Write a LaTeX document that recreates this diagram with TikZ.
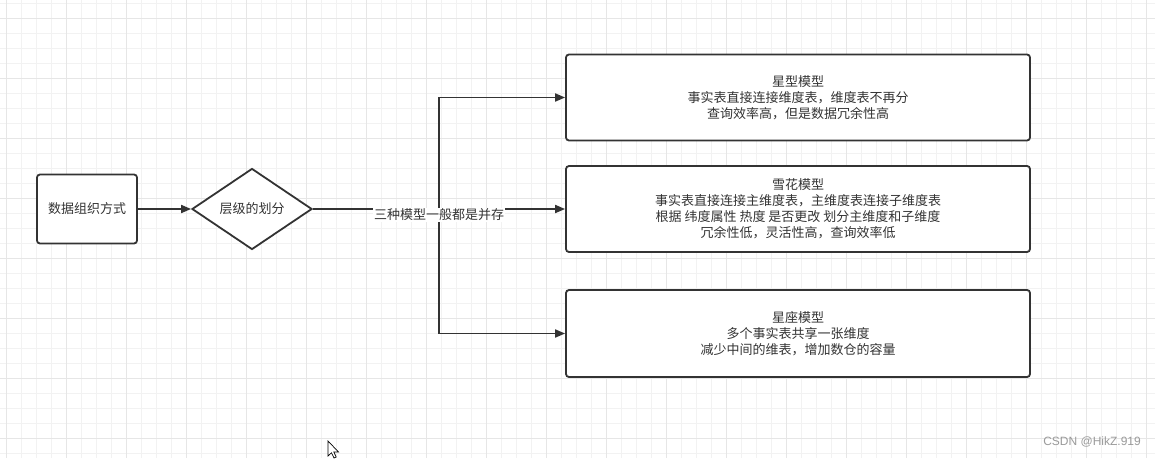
\documentclass[tikz,border=0pt]{standalone}
\usepackage{fontspec}
\setmainfont{Noto Sans CJK SC}
\newfontfamily\wmfont{Liberation Sans}
\usetikzlibrary{shapes.geometric,arrows.meta}
\definecolor{ink}{HTML}{333333}
\definecolor{gridminor}{HTML}{F2F2F2}
\definecolor{gridmajor}{HTML}{E6E6E6}
\definecolor{wm}{HTML}{9A9A9A}
\tikzset{
  box/.style={draw=ink, line width=1.8pt, rounded corners=3pt, fill=white,
    text=ink, align=center, inner sep=2pt, font=\fontsize{13}{16}\selectfont},
  dia/.style={diamond, draw=ink, line width=1.8pt, fill=white, text=ink,
    minimum width=120pt, minimum height=81pt, inner sep=0pt,
    font=\fontsize{13}{16}\selectfont},
  conn/.style={draw=ink, line width=1.8pt},
  arr/.style={conn, -{Triangle[length=10pt,width=8pt]}},
  lbl/.style={fill=white, text=ink, inner sep=1pt, font=\fontsize{13}{16}\selectfont},
}
\begin{document}
\begin{tikzpicture}[x=1pt,y=-1pt]
\useasboundingbox (0,0) rectangle (1155,458);
\fill[white] (0,0) rectangle (1155,458);
% grid
\foreach \x in {6.7,21.7,...,1155} \draw[gridminor, line width=0.8pt] (\x,0) -- (\x,458);
\foreach \y in {3.3,18.3,...,458} \draw[gridminor, line width=0.8pt] (0,\y) -- (1155,\y);
\foreach \x in {6.7,66.7,...,1155} \draw[gridmajor, line width=0.8pt] (\x,0) -- (\x,458);
\foreach \y in {18.3,78.3,...,458} \draw[gridmajor, line width=0.8pt] (0,\y) -- (1155,\y);

\node[box, minimum width=100pt, minimum height=69pt] (src) at (87,209) {数据组织方式};
\node[dia] (d) at (252,209) {层级的划分};
\node[box, minimum width=464pt, minimum height=86pt] (star) at (798,97.5)
  {星型模型\\事实表直接连接维度表，维度表不再分\\查询效率高，但是数据冗余性高};
\node[box, minimum width=464pt, minimum height=86pt] (snow) at (798,209)
  {雪花模型\\事实表直接连接主维度表，主维度表连接子维度表\\根据 纬度属性 热度 是否更改 划分主维度和子维度\\冗余性低，灵活性高，查询效率低};
\node[box, minimum width=464pt, minimum height=87pt] (cons) at (798,333.5)
  {星座模型\\多个事实表共享一张维度\\减少中间的维表，增加数仓的容量};

\coordinate (j) at (439,209);
\draw[arr] (src.east) -- (d.west);
\draw[arr] (d.east) -- (j) |- (star.west);
\draw[arr] (d.east) -- (j) |- (cons.west);
\draw[arr] (d.east) -- (snow.west |- j);
\node[lbl] (lab) at (439,215) {三种模型一般都是并存};

\node[text=wm, font=\wmfont\fontsize{12}{14}\selectfont, anchor=east, inner sep=0pt] (wmk) at (1141,442) {CSDN @HikZ.919};

% mouse cursor
\draw[black, fill=white, line width=0.7pt, line join=miter]
  (328,441) -- (328,456) -- (331.5,452.8) -- (334,458) -- (336.2,457) -- (333.8,452) -- (338.5,452) -- cycle;
\end{tikzpicture}
\end{document}
